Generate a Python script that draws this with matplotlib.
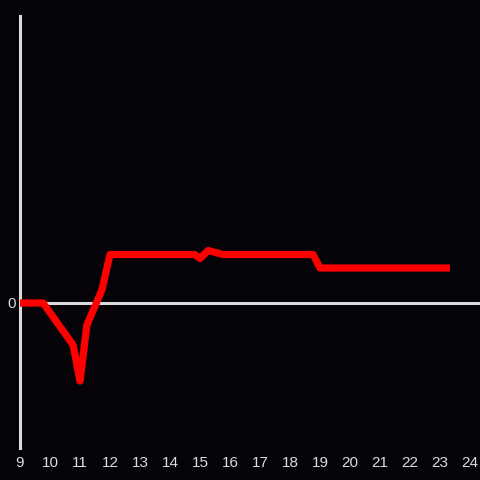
import matplotlib
matplotlib.use("Agg")
import matplotlib.pyplot as plt

plt.rcParams['font.family'] = ['Liberation Sans', 'DejaVu Sans']

hours  = [9, 9.77, 10.77, 11.0, 11.23, 11.73, 12.0, 14.83, 15.0, 15.27, 15.77, 18.77, 19.0, 23.33]
values = [0, 0, -4.2, -7.8, -2.2, 1.3, 4.85, 4.85, 4.45, 5.25, 4.85, 4.85, 3.5, 3.5]
xticks = list(range(9, 25))

bg = '#050307'
fg = '#dcdcdc'

fig = plt.figure(figsize=(4.8, 4.8), dpi=100, facecolor=bg)
ax = fig.add_axes([20/480, 32/480, 460/480, 432/480], facecolor=bg)

ax.axhline(0, color=fg, lw=2.2, zorder=1)
ax.plot(hours, values, color='#ff0000', lw=5.2, solid_joinstyle='round', solid_capstyle='butt', zorder=3)

ax.set_xlim(9, 24.333)
ax.set_ylim(-14.5, 28.7)
ax.set_xticks(xticks)
ax.set_xticklabels([str(t) for t in xticks])
ax.set_yticks([0])
ax.set_yticklabels(['0'])
ax.tick_params(axis='x', length=0, pad=5.5, colors=fg, labelsize=11)
ax.tick_params(axis='y', length=0, pad=3, colors=fg, labelsize=11)

for s in ['top', 'right', 'bottom']:
    ax.spines[s].set_visible(False)
ax.spines['left'].set_color(fg)
ax.spines['left'].set_linewidth(2.2)

fig.savefig('out.png', dpi=100, facecolor=bg)
